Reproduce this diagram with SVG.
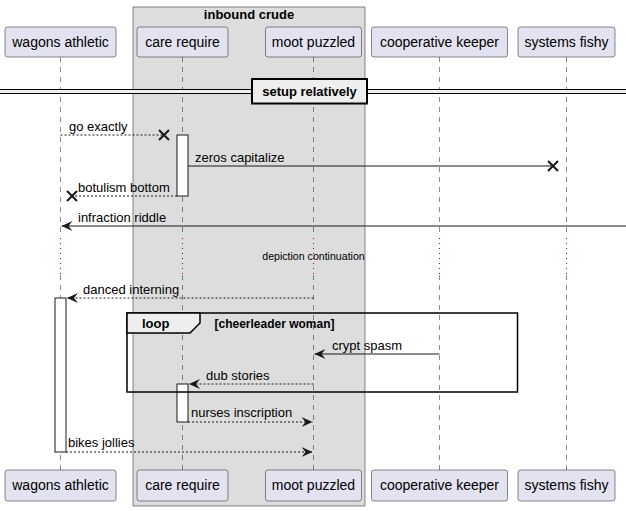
<svg xmlns="http://www.w3.org/2000/svg" width="626" height="511" viewBox="0 0 626 511">
  <defs>
    <style>
      text { font-family: "Liberation Sans", Arial, sans-serif; fill: #000000; }
      .ptxt { font-size: 14px; fill: #000000; }
      .mtxt { font-size: 13px; }
      .btxt { font-size: 13px; font-weight: bold; }
      .part { fill: #E2E2F0; stroke: #181818; stroke-width: 0.5; }
      .life { stroke: #181818; stroke-width: 0.5; stroke-dasharray: 5,5; fill: none; }
      .delay { stroke: #A80036; stroke-width: 1; stroke-dasharray: 1,4; fill: none; }
      .act { fill: #FFFFFF; stroke: #181818; stroke-width: 1; }
      .msg { stroke: #181818; stroke-width: 1; fill: none; }
      .dash { stroke-dasharray: 2,2; }
      .xmark { stroke: #181818; stroke-width: 2; fill: none; }
    </style>
    <marker id="arr" viewBox="0 0 12 10" refX="11" refY="5" markerWidth="12" markerHeight="10" markerUnits="userSpaceOnUse" orient="auto">
      <path d="M0,0 L11,5 L0,10 L4,5 Z" fill="#181818"/>
    </marker>
  </defs>

  <!-- participant box -->
  <g id="box-inbound-crude">
    <rect x="133" y="7" width="232" height="499" fill="#DDDDDD" stroke="#181818" stroke-width="0.5"/>
    <text class="btxt" x="249" y="19" text-anchor="middle">inbound crude</text>
  </g>

  <!-- lifelines -->
  <g id="lifelines">
    <line class="life" x1="60.5" y1="57" x2="60.5" y2="237"/>
    <line class="life" x1="60.5" y1="275" x2="60.5" y2="470"/>
    <line class="life" x1="182.5" y1="57" x2="182.5" y2="237"/>
    <line class="life" x1="182.5" y1="275" x2="182.5" y2="470"/>
    <line class="life" x1="313.5" y1="57" x2="313.5" y2="237"/>
    <line class="life" x1="313.5" y1="275" x2="313.5" y2="470"/>
    <line class="life" x1="439.5" y1="57" x2="439.5" y2="237"/>
    <line class="life" x1="439.5" y1="275" x2="439.5" y2="470"/>
    <line class="life" x1="566.5" y1="57" x2="566.5" y2="237"/>
    <line class="life" x1="566.5" y1="275" x2="566.5" y2="470"/>
    <line class="delay" x1="60.5" y1="238" x2="60.5" y2="275"/>
    <line class="delay" x1="182.5" y1="238" x2="182.5" y2="275"/>
    <line class="delay" x1="313.5" y1="238" x2="313.5" y2="275"/>
    <line class="delay" x1="439.5" y1="238" x2="439.5" y2="275"/>
    <line class="delay" x1="566.5" y1="238" x2="566.5" y2="275"/>
  </g>

  <!-- participants -->
  <g id="p-wagons-athletic">
    <rect class="part" x="5" y="27" width="111" height="30" rx="2.5"/>
    <text class="ptxt" x="60.5" y="47" text-anchor="middle">wagons athletic</text>
    <rect class="part" x="5" y="470" width="111" height="31" rx="2.5"/>
    <text class="ptxt" x="60.5" y="490" text-anchor="middle">wagons athletic</text>
  </g>
  <g id="p-care-require">
    <rect class="part" x="137" y="27" width="91" height="30" rx="2.5"/>
    <text class="ptxt" x="182.5" y="47" text-anchor="middle">care require</text>
    <rect class="part" x="137" y="470" width="91" height="31" rx="2.5"/>
    <text class="ptxt" x="182.5" y="490" text-anchor="middle">care require</text>
  </g>
  <g id="p-moot-puzzled">
    <rect class="part" x="265.5" y="27" width="96" height="30" rx="2.5"/>
    <text class="ptxt" x="313.5" y="47" text-anchor="middle">moot puzzled</text>
    <rect class="part" x="265.5" y="470" width="96" height="31" rx="2.5"/>
    <text class="ptxt" x="313.5" y="490" text-anchor="middle">moot puzzled</text>
  </g>
  <g id="p-cooperative-keeper">
    <rect class="part" x="371.5" y="27" width="136" height="30" rx="2.5"/>
    <text class="ptxt" x="439.5" y="47" text-anchor="middle">cooperative keeper</text>
    <rect class="part" x="371.5" y="470" width="136" height="31" rx="2.5"/>
    <text class="ptxt" x="439.5" y="490" text-anchor="middle">cooperative keeper</text>
  </g>
  <g id="p-systems-fishy">
    <rect class="part" x="518" y="27" width="97" height="30" rx="2.5"/>
    <text class="ptxt" x="566.5" y="47" text-anchor="middle">systems fishy</text>
    <rect class="part" x="518" y="470" width="97" height="31" rx="2.5"/>
    <text class="ptxt" x="566.5" y="490" text-anchor="middle">systems fishy</text>
  </g>

  <!-- divider -->
  <g id="divider-setup">
    <rect x="0" y="89.5" width="626" height="4" fill="#EEEEEE" stroke="none"/>
    <line x1="0" y1="89.5" x2="626" y2="89.5" stroke="#000000" stroke-width="1"/>
    <line x1="0" y1="93.5" x2="626" y2="93.5" stroke="#000000" stroke-width="1"/>
    <rect x="252" y="79" width="115" height="24.5" fill="#EEEEEE" stroke="#000000" stroke-width="2"/>
    <text class="btxt" x="309.5" y="96" text-anchor="middle">setup relatively</text>
  </g>

  <!-- activations -->
  <g id="activations">
    <rect class="act" x="177" y="135" width="11" height="61"/>
    <rect class="act" x="55" y="298" width="11" height="154"/>
    <rect class="act" x="177" y="384" width="11" height="38"/>
  </g>

  <!-- loop fragment -->
  <g id="loop-cheerleader-woman">
    <rect x="127" y="313" width="390.5" height="79" fill="none" stroke="#000000" stroke-width="1.5"/>
    <path d="M127,313 L200,313 L200,323 L190,333 L127,333 Z" fill="#EEEEEE" stroke="#000000" stroke-width="1.5"/>
    <text class="btxt" x="142" y="328">loop</text>
    <text x="214.5" y="327.5" style="font-size:12px;font-weight:bold">[cheerleader woman]</text>
  </g>

  <!-- connectors -->
  <g id="connectors">
    <line class="msg dash" x1="60.5" y1="135" x2="164" y2="135"/>
    <path class="xmark" d="M159,130 L169,140 M169,130 L159,140"/>
    <text class="mtxt" x="69" y="131">go exactly</text>

    <line class="msg" x1="188" y1="166" x2="553" y2="166"/>
    <path class="xmark" d="M548,161 L558,171 M558,161 L548,171"/>
    <text class="mtxt" x="195" y="162">zeros capitalize</text>

    <line class="msg dash" x1="177" y1="196" x2="72" y2="196"/>
    <path class="xmark" d="M67,191 L77,201 M77,191 L67,201"/>
    <text class="mtxt" x="78" y="192">botulism bottom</text>

    <line class="msg" x1="626" y1="226" x2="61.5" y2="226" marker-end="url(#arr)"/>
    <text class="mtxt" x="78" y="222">infraction riddle</text>

    <text x="313.5" y="260" text-anchor="middle" style="font-size:10.6px">depiction continuation</text>

    <line class="msg dash" x1="313.5" y1="298" x2="67" y2="298" marker-end="url(#arr)"/>
    <text class="mtxt" x="83" y="294">danced interning</text>

    <line class="msg" x1="439.5" y1="354" x2="314.5" y2="354" marker-end="url(#arr)"/>
    <text class="mtxt" x="332" y="350">crypt spasm</text>

    <line class="msg dash" x1="313.5" y1="384" x2="189" y2="384" marker-end="url(#arr)"/>
    <text class="mtxt" x="206" y="380">dub stories</text>

    <line class="msg dash" x1="188" y1="422" x2="312.5" y2="422" marker-end="url(#arr)"/>
    <text class="mtxt" x="191" y="417">nurses inscription</text>

    <line class="msg dash" x1="66" y1="452" x2="312.5" y2="452" marker-end="url(#arr)"/>
    <text class="mtxt" x="68" y="447">bikes jollies</text>
  </g>
</svg>
